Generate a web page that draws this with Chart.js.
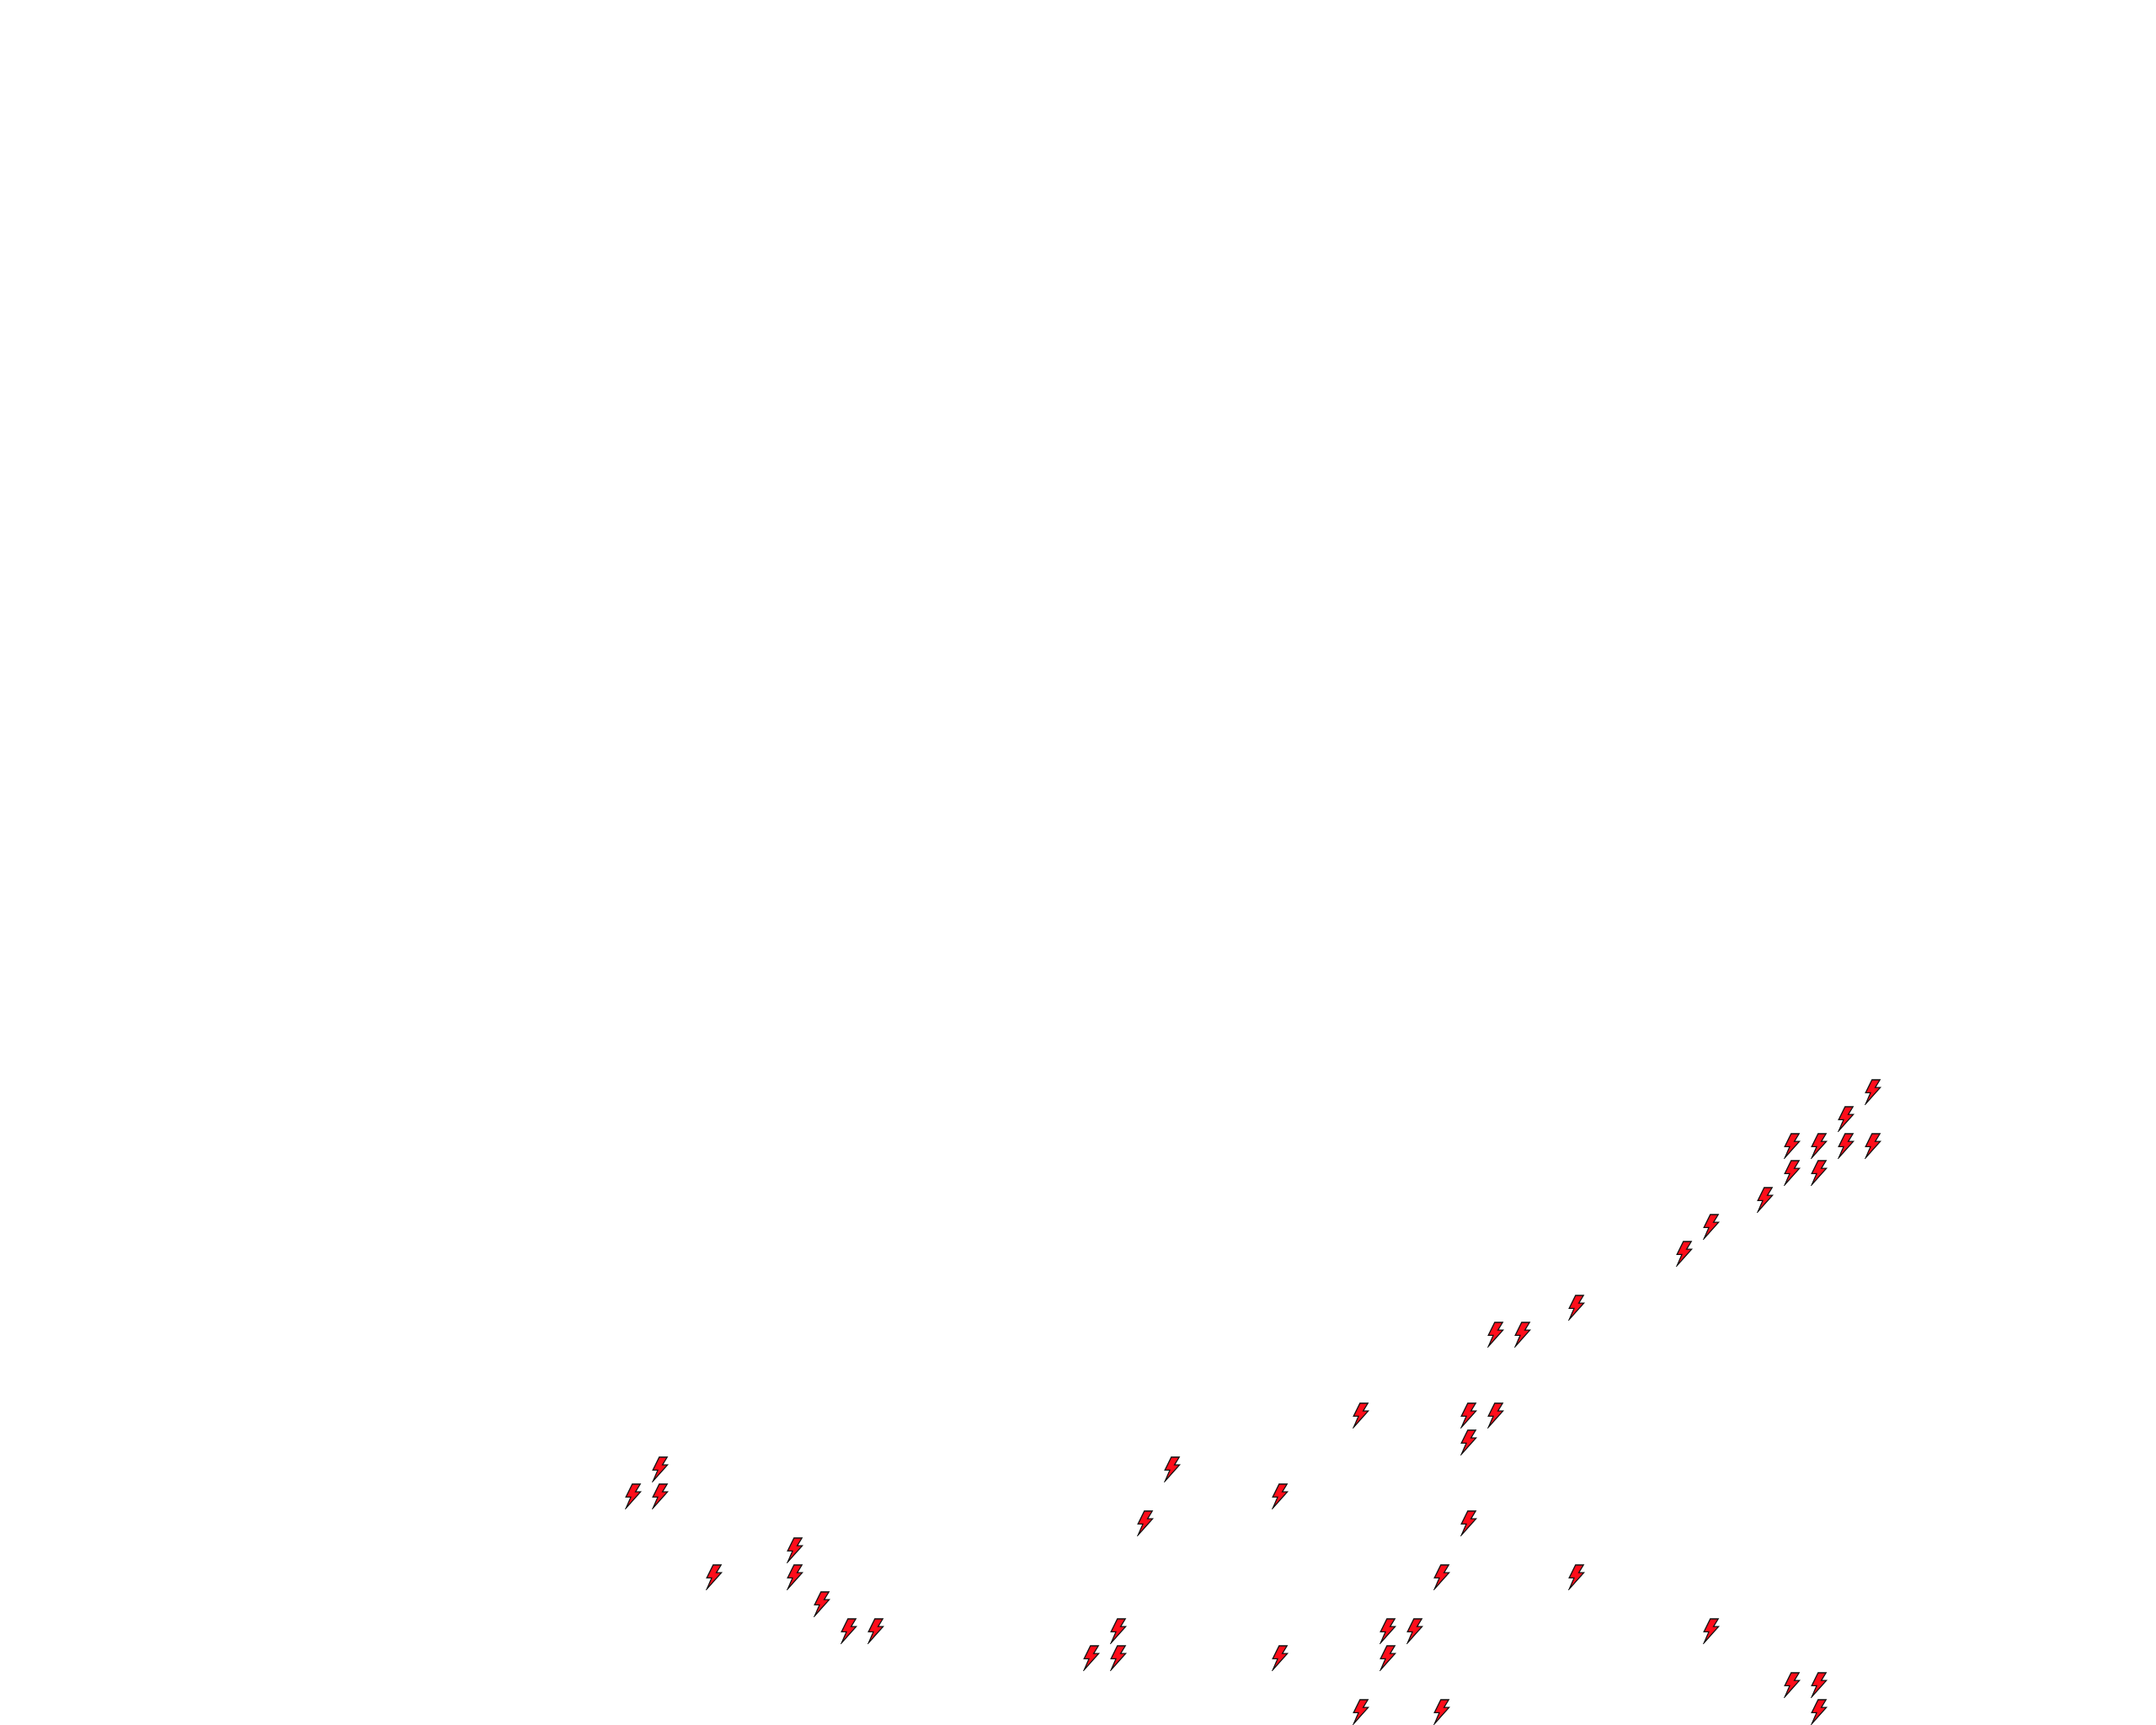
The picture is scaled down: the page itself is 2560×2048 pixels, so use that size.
<!DOCTYPE html>
<html>
<head>
<meta charset="utf-8">
<style>html,body{margin:0;padding:0;background:#fff}canvas{display:block}</style>
<script src="https://cdn.jsdelivr.net/npm/chart.js@4/dist/chart.umd.min.js"></script>
</head>
<body>
<canvas id="c" width="2560" height="2048"></canvas>
<script>
const xValues = [69,68,66,67,68,69,66,67,65,63,62,58,55,56,50,54,55,54,24,43,23,24,47,42,54,29,26,29,53,58,30,31,32,41,51,52,63,40,41,47,51,66,67,50,53,67];
const yValues = [23,22,21,21,21,21,20,20,19,18,17,15,14,14,11,11,11,10,9,9,8,8,8,7,7,6,5,5,5,5,4,3,3,3,3,3,3,2,2,2,2,1,1,0,0,0];

function boltImage() {
  const cv = document.createElement('canvas');
  cv.width = 24; cv.height = 32;
  const g = cv.getContext('2d');
  g.translate(12, 16);
  g.beginPath();
  g.moveTo(-1.2, -14.0);
  g.lineTo(8.2, -14.0);
  g.lineTo(2.6, -4.9);
  g.lineTo(8.6, -4.9);
  g.lineTo(-8.6, 14.4);
  g.lineTo(-3.0, 1.4);
  g.lineTo(-8.8, 1.4);
  g.closePath();
  g.fillStyle = '#ff0d1a';
  g.fill();
  g.lineWidth = 1.3;
  g.lineJoin = 'miter';
  g.strokeStyle = '#111111';
  g.stroke();
  return cv;
}

new Chart(document.getElementById('c'), {
  type: 'scatter',
  data: {
    datasets: [{
      label: 'Lightning',
      data: xValues.map((x, i) => ({ x, y: yValues[i] })),
      pointStyle: boltImage(),
      pointRadius: 1,
      pointHoverRadius: 1,
      pointBorderWidth: 0,
      showLine: false
    }]
  },
  options: {
    responsive: false,
    animation: false,
    layout: { padding: 0, autoPadding: false },
    plugins: { legend: { display: false }, title: { display: false }, tooltip: { enabled: false } },
    scales: {
      x: { type: 'linear', min: -0.5, max: 79.5, display: false },
      y: { type: 'linear', min: -0.5, max: 63.5, display: false }
    }
  }
});
</script>
</body>
</html>
